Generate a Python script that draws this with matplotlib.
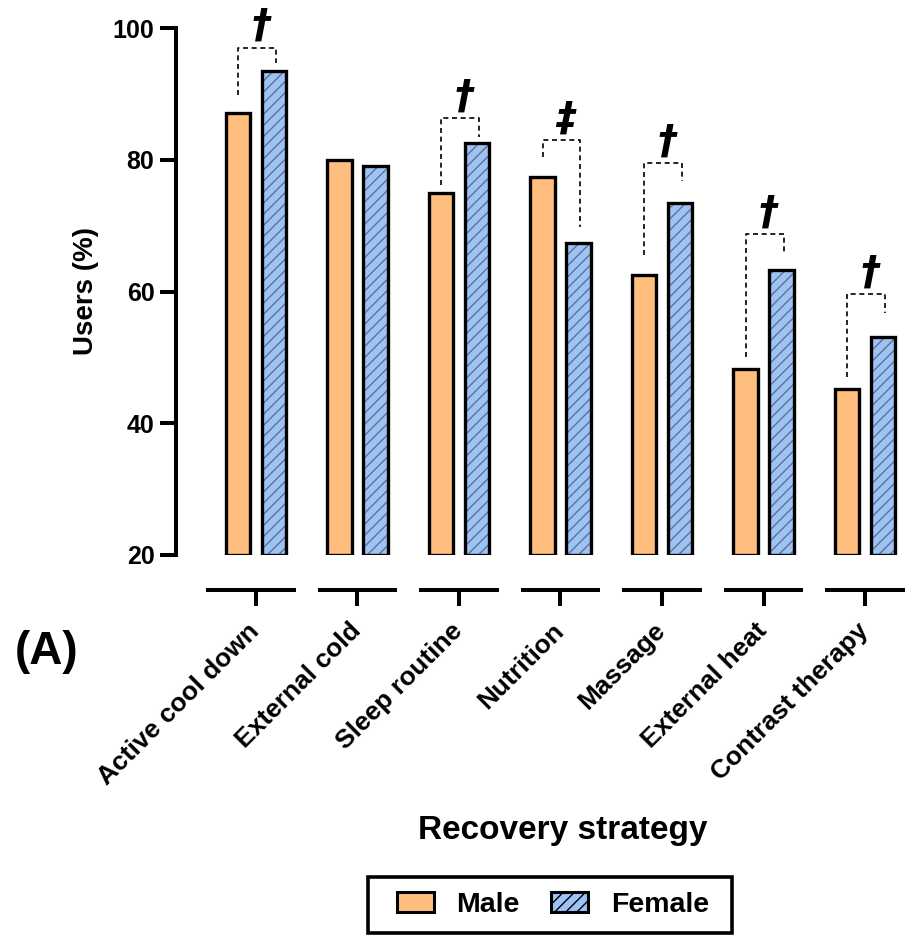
import matplotlib
matplotlib.use("Agg")
import matplotlib.pyplot as plt
import matplotlib.transforms as mtransforms
from matplotlib.patches import Patch, Rectangle
import numpy as np

plt.rcParams['font.family'] = ['Liberation Sans', 'DejaVu Sans']
plt.rcParams['font.weight'] = 'bold'
plt.rcParams['hatch.linewidth'] = 1.0

# ---------------- data ----------------
categories = ["Active cool down", "External cold", "Sleep routine", "Nutrition",
              "Massage", "External heat", "Contrast therapy"]
male = [87.1, 79.9, 74.9, 77.4, 62.5, 48.3, 45.2]
female = [93.5, 79.0, 82.5, 67.3, 73.5, 63.2, 53.1]
sig_symbols = ["\u2020", "", "\u2020", "\u2021", "\u2020", "\u2020", "\u2020"]
bracket_top = [97.0, None, 86.3, 83.0, 79.5, 68.7, 59.6]
bracket_left_end = [89.8, None, 76.2, 80.4, 65.5, 50.1, 47.0]
bracket_right_end = [94.7, None, 83.4, 69.8, 76.8, 65.5, 56.8]
yticks = [20, 40, 60, 80, 100]
series_names = ["Male", "Female"]

male_color = "#FFBE7D"
female_color = "#9DC3F5"
hatch_color = "#5E7291"

# ---------------- figure ----------------
fig = plt.figure(figsize=(9.09, 9.36), dpi=100)
ax = fig.add_axes([176/909, 1-555/936, 729/909, 527/936])

x = np.arange(len(categories))
off = 0.177
bw = 0.238
base = 20

ax.bar(x - off, np.array(male) - base, bw, bottom=base, color=male_color,
       edgecolor="black", linewidth=2.4, zorder=3)
# female: hatched fill, then black outline on top
ax.bar(x + off, np.array(female) - base, bw, bottom=base, color=female_color,
       edgecolor=hatch_color, hatch="///", linewidth=0, zorder=3)
ax.bar(x + off, np.array(female) - base, bw, bottom=base, fill=False,
       edgecolor="black", linewidth=2.4, zorder=4)

ax.set_xlim(-0.788, 6.394)
ax.set_ylim(20, 100)

# spines
for s in ["top", "right", "bottom"]:
    ax.spines[s].set_visible(False)
ax.spines["left"].set_linewidth(2.9)
ax.spines["left"].set_bounds(20, 100)
ax.spines["left"].set_capstyle("projecting")

ax.set_yticks(yticks)
ax.tick_params(axis="y", length=11.5, width=2.9, labelsize=18, pad=4)
for lab in ax.get_yticklabels():
    lab.set_fontweight("bold")

# x ticks & labels
ax.set_xticks(x)
ax.set_xticklabels(categories)
ax.tick_params(axis="x", length=0, pad=52, labelsize=19)
for lab in ax.get_xticklabels():
    lab.set_rotation(45)
    lab.set_ha("right")
    lab.set_va("center")
    lab.set_rotation_mode("anchor")
    lab.set_fontweight("bold")

# segmented x axis (Prism style)
trans = mtransforms.blended_transform_factory(ax.transData, ax.transAxes)
y_seg = -35/527
y_tick_end = -51/527
half = 0.39
for i in x:
    left = i - half - (0.1 if i == 0 else 0)
    ax.plot([left, i + half], [y_seg, y_seg], color="black", lw=2.9,
            transform=trans, clip_on=False, solid_capstyle="butt")
    ax.plot([i, i], [y_seg, y_tick_end], color="black", lw=2.9,
            transform=trans, clip_on=False, solid_capstyle="butt")

# significance brackets
for i in x:
    if not sig_symbols[i]:
        continue
    xl = i - off
    xr = i + off + 0.02
    ax.plot([xl, xl, xr, xr],
            [bracket_left_end[i], bracket_top[i], bracket_top[i], bracket_right_end[i]],
            color="black", lw=1.2, linestyle=(0, (3.0, 2.2)), clip_on=False, zorder=5)
    ax.annotate(sig_symbols[i], xy=((xl + xr) / 2, bracket_top[i]),
                xytext=(3, 2), textcoords="offset points",
                ha="center", va="bottom", fontsize=28, fontweight="bold",
                fontstyle="italic", family="DejaVu Sans", annotation_clip=False)

# labels
ax.set_ylabel("Users (%)", fontsize=20, fontweight="bold")
ax.yaxis.set_label_coords(-0.1235, 0.501)
ax.yaxis.label.set_va("center")
ax.set_xlabel("Recovery strategy", fontsize=24, fontweight="bold")
ax.xaxis.set_label_coords(0.531, -0.522)
ax.xaxis.label.set_va("center")

fig.text(47/909, 1-652/936, "(A)", fontsize=33, fontweight="bold",
         ha="center", va="center")

# legend
handles = [Patch(facecolor=male_color, edgecolor="black", linewidth=2.2),
           Patch(facecolor=female_color, edgecolor="black", linewidth=2.2, hatch="///")]
leg = fig.legend(handles, series_names, loc="center", ncol=2,
                 bbox_to_anchor=(553/909, 1-905/936), fontsize=20.5,
                 frameon=False,
                 handlelength=1.3, handleheight=0.65, handletextpad=0.8,
                 columnspacing=1.1, borderpad=0.5)
for t in leg.get_texts():
    t.set_fontweight("bold")
fig.patches.append(Rectangle((368/909, 1-933/936), 364/909, 56/936,
                             transform=fig.transFigure, fill=False,
                             edgecolor="black", linewidth=2.6))

fig.savefig("out.png", dpi=100)
